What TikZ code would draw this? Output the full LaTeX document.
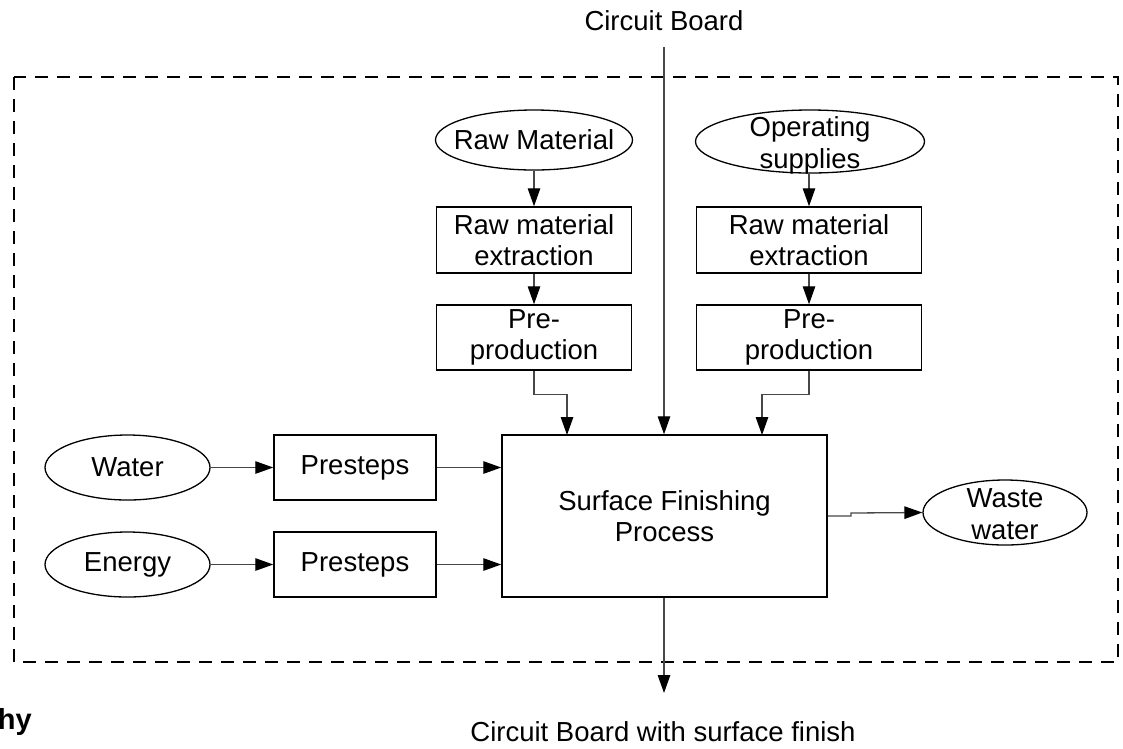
\documentclass[tikz,border=0pt]{standalone}
\usepackage{fontspec}
\setmainfont{Liberation Sans}
\usetikzlibrary{shapes.geometric,arrows.meta,calc}

\tikzset{
  lbl/.style={font=\fontsize{27.5}{31.5}\selectfont, align=center, inner sep=0pt},
  proc/.style={lbl, draw=black, line width=1.5pt, rectangle},
  src/.style={draw=black, line width=1.3pt, ellipse, inner sep=0pt},
  flow/.style={draw=black!72, line width=1.3pt,
    -{Triangle[length=18pt,width=12.5pt,color=black]}},
  boundary/.style={draw=black, line width=1.5pt, dash pattern=on 13pt off 9pt}
}

\begin{document}
\begin{tikzpicture}[x=1pt,y=-1pt]
\useasboundingbox (0,0) rectangle (1123,748);

% system boundary
\draw[boundary] (14,77) rectangle (1118,662);

% central process
\node[proc, minimum width=325pt, minimum height=162pt] (sfp) at (664.5,516) {Surface Finishing\\Process};

% raw material chain
\node[src, minimum width=197pt, minimum height=60pt, label={[lbl]center:Raw Material}] (rm) at (534,140) {};
\node[proc, minimum width=195pt, minimum height=66pt] (rx1) at (534,240) {Raw material\\extraction};
\node[proc, minimum width=195pt, minimum height=65pt] (pp1) at (534,337.5) {Pre-\\production};

% operating supplies chain
\node[src, minimum width=229pt, minimum height=63pt, label={[lbl, yshift=-4pt]center:{Operating\\supplies}}] (os) at (810,141.5) {};
\node[proc, minimum width=225pt, minimum height=66pt] (rx2) at (809,240) {Raw material\\extraction};
\node[proc, minimum width=225pt, minimum height=65pt] (pp2) at (809,337.5) {Pre-\\production};

% water and energy inputs
\node[src, minimum width=165pt, minimum height=65pt, label={[lbl]center:Water}] (water) at (127.5,467.5) {};
\node[proc, minimum width=162pt, minimum height=65pt] (ps1) at (355,467.5) {Presteps};
\node[src, minimum width=165pt, minimum height=65pt, label={[lbl]center:Energy}] (energy) at (127.5,564.5) {};
\node[proc, minimum width=162pt, minimum height=65pt] (ps2) at (355,564.5) {Presteps};

% output
\node[src, minimum width=164pt, minimum height=65pt, label={[lbl, yshift=-1.5pt]center:{Waste\\water}}] (ww) at (1005,512.5) {};

% product in and out
\node[lbl, anchor=base] (cbin) at (664,30) {Circuit Board};
\node[lbl, anchor=base] (cbout) at (663,741) {Circuit Board with surface finish};
\node[inner sep=0pt, anchor=base east, font=\fontsize{29}{33}\selectfont\bfseries] (tail) at (32,729) {hy};

% helper points
\coordinate (cbtop) at (664,47);
\coordinate (in1) at (567,435);
\coordinate (in2) at (762,435);
\coordinate (cbend) at (664,693);
\coordinate (wwin) at (851,513);

% connectors
\draw[flow] (rm) -- (rx1);
\draw[flow] (rx1) -- (pp1);
\draw[flow] (os.south -| rx2.north) -- (rx2);
\draw[flow] (rx2) -- (pp2);
\draw[flow] (pp1.south) -- ++(0,24) -| (in1);
\draw[flow] (pp2.south) -- ++(0,24) -| (in2);
\draw[flow] (cbtop) -- (sfp.north -| cbtop);
\draw[flow] (water) -- (ps1);
\draw[flow] (energy) -- (ps2);
\draw[flow] (ps1) -- (sfp.west |- ps1);
\draw[flow] (ps2) -- (sfp.west |- ps2);
\draw[flow] (sfp.east |- 0,516) -- (wwin |- 0,516) -- (wwin) -- (ww.west);
\draw[flow] (sfp.south -| cbend) -- (cbend);
\end{tikzpicture}
\end{document}
